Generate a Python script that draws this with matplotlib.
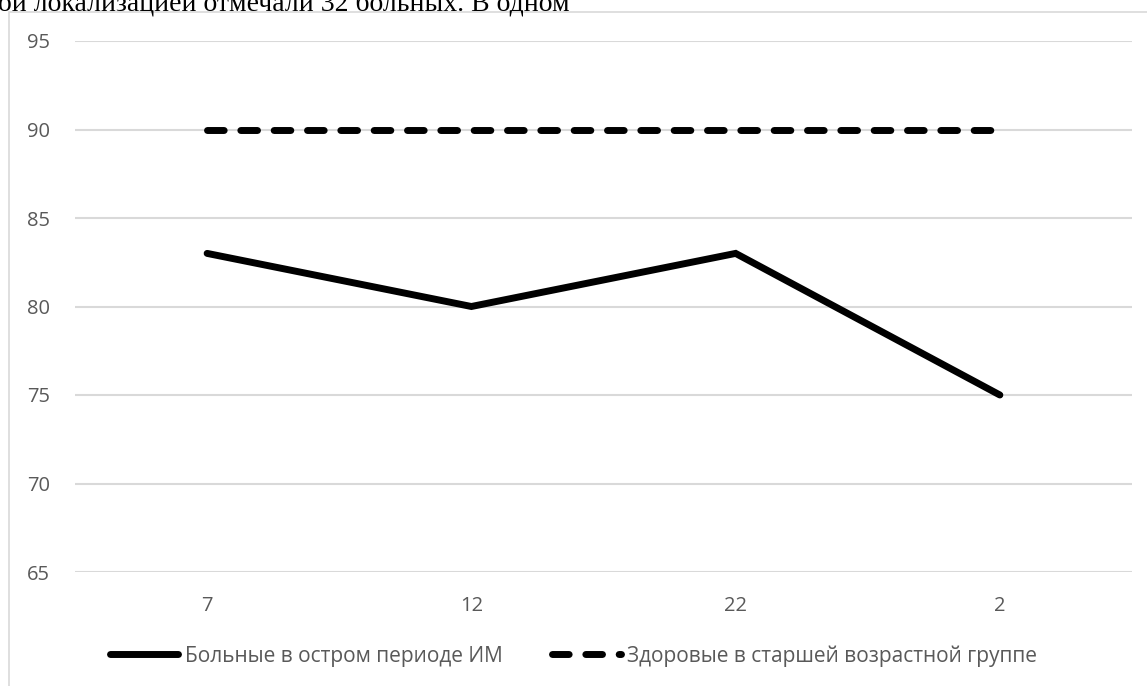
import numpy as np
import matplotlib.pyplot as plt
from matplotlib.patches import Rectangle

categories = ['7', '12', '22', '2']
patients = [83, 80, 83, 75]
healthy = [90, 90, 90, 90]
label_patients = 'Больные в остром периоде ИМ'
label_healthy = 'Здоровые в старшей возрастной группе'
yticks = [65, 70, 75, 80, 85, 90, 95]

W, H = 1147, 686
fig = plt.figure(figsize=(W / 100, H / 100), dpi=100)

# plot area in pixels: x 75..1132, y 41 (95) .. 572 (65)
ax = fig.add_axes([75 / W, 1 - 572 / H, (1132 - 75) / W, (572 - 41) / H])
x = np.arange(len(categories))
ax.plot(x, patients, color='black', lw=5, solid_capstyle='round',
        solid_joinstyle='miter', label=label_patients)
ax.plot(x, healthy, color='black', lw=5, dashes=(2.4, 2.4),
        dash_capstyle='round', label=label_healthy)

ax.set_xlim(-0.5, len(categories) - 0.5)
ax.set_ylim(65, 95)
ax.set_yticks(yticks)
ax.set_xticks(x)
ax.set_xticklabels(categories)
ax.grid(axis='y', color='#d9d9d9', lw=1.5)
ax.set_axisbelow(True)
for s in ax.spines.values():
    s.set_visible(False)
ax.tick_params(length=0, labelsize=14.5, labelcolor='#595959')
ax.tick_params(axis='y', pad=18)
ax.tick_params(axis='x', pad=17)
for t in ax.get_xticklabels() + ax.get_yticklabels():
    t.set_fontfamily('Open Sans')

leg = fig.legend(loc='center', bbox_to_anchor=(0.5, 1 - 656 / H), ncol=2,
                 frameon=False, handlelength=3.3, handletextpad=0.3,
                 columnspacing=2.4, prop={'family': 'Open Sans', 'size': 15})
for t in leg.get_texts():
    t.set_color('#595959')

# chart frame (partly off the page)
fig.patches.append(Rectangle((9 / W, -0.1), 1.2, 1 - 12 / H + 0.1,
                             transform=fig.transFigure, fill=False,
                             edgecolor='#d9d9d9', lw=1.2))

# clipped line of document text above the chart
fig.text(-2 / W, 1 - 10 / H, 'ой локализацией отмечали 32 больных. В одном',
         family='Liberation Serif', fontsize=20, va='baseline', ha='left')

fig.savefig('out.png', dpi=100)
